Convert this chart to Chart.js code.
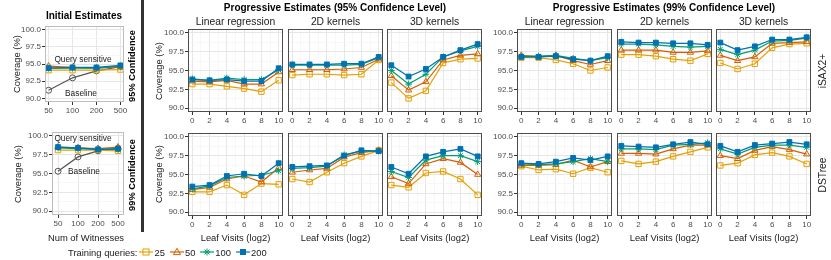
<!DOCTYPE html>
<html>
<head>
<meta charset="utf-8">
<script src="https://cdn.jsdelivr.net/npm/chart.js@4.4.1/dist/chart.umd.min.js"></script>
<style>
  body { margin: 0; width: 831px; height: 260px; position: relative; background: #fff; overflow: hidden;
         font-family: "Liberation Sans", Arial, sans-serif; }
  canvas { position: absolute; }
  .t { position: absolute; white-space: nowrap; color: #1a1a1a; font-size: 9.4px; transform: translate(-50%, -50%); }
  .b { font-weight: bold; font-size: 10px; color: #000; }
  .v { transform: translate(-50%, -50%) rotate(-90deg); }
</style>
</head>
<body>
<script>
// categories
var witnesses = ['50', '100', '200', '500'];
var leafVisits = [0, 2, 4, 6, 8, 10];
var queries = ['25', '50', '100', '200'];
var yMajor = [90, 92.5, 95, 97.5, 100];
var yMinor = [91.25, 93.75, 96.25, 98.75];

// initial estimates (rows: 25, 50, 100, 200 training queries)
var init95Baseline = [91.2, 93.0, 94.0, 94.6];
var init95 = [
  [94.1, 94.1, 94.1, 94.2],
  [94.7, 94.5, 94.4, 94.6],
  [94.4, 94.4, 94.4, 94.7],
  [94.4, 94.5, 94.5, 94.8]
];
var init99Baseline = [95.3, 97.2, 98.0, 98.3];
var init99 = [
  [98.1, 98.1, 98.1, 98.0],
  [98.5, 98.4, 98.3, 98.5],
  [98.4, 98.3, 98.2, 98.2],
  [98.5, 98.4, 98.2, 98.3]
];

// progressive estimates, 95% level
var lr95Isax = [
  [93.2, 93.2, 92.9, 92.6, 92.2, 93.7],
  [93.6, 93.5, 93.7, 93.2, 93.2, 94.8],
  [93.9, 93.7, 94.0, 93.8, 93.8, 95.1],
  [93.8, 93.7, 93.8, 93.6, 93.6, 95.3]
];
var k2d95Isax = [
  [94.4, 94.5, 94.5, 94.4, 94.5, 96.4],
  [95.1, 95.1, 95.1, 95.2, 95.4, 96.5],
  [95.7, 95.7, 95.7, 95.7, 95.8, 96.7],
  [95.8, 95.8, 95.8, 95.9, 95.9, 96.8]
];
var k3d95Isax = [
  [93.4, 91.3, 92.3, 96.0, 96.5, 96.6],
  [94.3, 92.4, 93.5, 96.4, 97.0, 97.2],
  [95.0, 93.2, 94.5, 96.8, 97.6, 98.2],
  [95.7, 94.2, 95.2, 96.8, 97.7, 98.5]
];
var lr95Ds = [
  [92.7, 92.7, 93.6, 92.3, 93.8, 93.7],
  [93.0, 93.3, 94.4, 94.8, 94.0, 95.9],
  [93.1, 93.5, 94.6, 94.8, 94.9, 95.5],
  [93.4, 93.6, 94.8, 95.1, 94.8, 96.5]
];
var k2d95Ds = [
  [94.4, 94.0, 95.3, 96.5, 97.4, 98.2],
  [95.3, 95.6, 95.8, 97.3, 97.9, 98.2],
  [95.8, 95.9, 96.1, 97.6, 98.1, 98.1],
  [96.0, 96.1, 96.2, 97.5, 98.2, 98.1]
];
var k3d95Ds = [
  [93.6, 93.3, 95.2, 95.4, 94.4, 92.3],
  [94.7, 93.8, 96.4, 97.1, 96.6, 95.0],
  [95.4, 94.6, 96.9, 97.5, 97.5, 96.7],
  [96.0, 95.1, 97.4, 98.0, 98.4, 97.4]
];

// progressive estimates, 99% level
var lr99Isax = [
  [96.7, 96.7, 96.4, 95.9, 95.0, 95.4],
  [97.0, 96.8, 97.0, 96.3, 95.8, 96.3],
  [96.9, 96.9, 97.0, 96.6, 96.3, 96.7],
  [96.8, 96.8, 96.9, 96.5, 96.3, 96.9]
];
var k2d99Isax = [
  [97.1, 97.1, 96.9, 96.5, 96.3, 97.2],
  [97.7, 97.7, 97.7, 97.4, 97.4, 97.6],
  [98.5, 98.5, 98.4, 98.2, 98.1, 98.2],
  [98.8, 98.7, 98.7, 98.6, 98.6, 98.4]
];
var k3d99Isax = [
  [96.0, 95.2, 95.9, 98.0, 98.5, 98.6],
  [97.0, 96.3, 96.8, 98.6, 98.7, 98.8],
  [97.8, 97.1, 97.7, 98.9, 99.0, 99.3],
  [98.7, 97.7, 98.2, 99.1, 99.1, 99.4]
];
var lr99Ds = [
  [96.1, 95.6, 95.7, 95.1, 95.9, 95.3],
  [96.2, 96.2, 96.3, 96.9, 96.0, 96.7],
  [96.4, 96.3, 96.4, 96.7, 97.1, 96.7],
  [96.5, 96.4, 96.7, 97.2, 96.9, 97.4]
];
var k2d99Ds = [
  [96.8, 96.4, 96.7, 97.4, 98.0, 98.6],
  [97.8, 97.8, 97.7, 98.4, 98.9, 98.9],
  [98.4, 98.4, 98.3, 98.9, 99.0, 99.2],
  [98.8, 98.7, 98.6, 99.0, 99.3, 99.0]
];
var k3d99Ds = [
  [96.2, 96.5, 97.6, 97.9, 97.4, 96.4],
  [97.5, 97.1, 98.2, 98.7, 98.3, 97.7],
  [98.4, 97.7, 98.6, 98.9, 98.9, 98.6],
  [98.8, 98.0, 98.9, 99.1, 99.3, 99.0]
];

// styles
var colors = ['#E69F00', '#D55E00', '#009E73', '#0072B2'];
var shapes = ['rect', 'triangle', 'star', 'rect'];
var radii = [3.8, 3.6, 3.4, 3.4];

Chart.defaults.font.family = '"Liberation Sans", Arial, sans-serif';
Chart.defaults.color = '#4d4d4d';

// panel border drawn over the data, like ggplot
var frame = {
  id: 'frame',
  afterDatasetsDraw: function(chart, args, opts) {
    var a = chart.chartArea, ctx = chart.ctx;
    ctx.save();
    ctx.strokeStyle = opts.color;
    ctx.lineWidth = 1;
    ctx.strokeRect(a.left + 0.5, a.top + 0.5, a.right - a.left - 1, a.bottom - a.top - 1);
    ctx.restore();
  }
};

function scale(min, max, majors, minors, size, show, fmt, isX) {
  var all = majors.concat(minors);
  function major(c) { return c.tick && majors.indexOf(c.tick.value) >= 0; }
  return {
    type: 'linear', min: min, max: max,
    afterBuildTicks: function(s) { s.ticks = all.map(function(v) { return {value: v}; }); },
    afterFit: function(s) {
      if (isX) { s.height = size; s.paddingLeft = 0; s.paddingRight = 0; }
      else { s.width = size; s.paddingTop = 0; s.paddingBottom = 0; }
    },
    border: {display: false},
    grid: {
      color: function(c) { return major(c) ? '#e6e6e6' : '#f3f3f3'; },
      lineWidth: function(c) { return major(c) ? 1 : 0.7; },
      drawTicks: show,
      tickLength: 3,
      tickWidth: 1,
      tickColor: function(c) { return major(c) ? '#333' : 'rgba(0,0,0,0)'; }
    },
    ticks: {
      display: show, autoSkip: false, maxRotation: 0, padding: 1,
      font: {size: 8}, color: '#4d4d4d',
      callback: function(v) { return majors.indexOf(v) >= 0 ? fmt(v) : ''; }
    }
  };
}

function panel(p) {
  var m = 10;
  var cw = p.w + p.yW + 2 * m, ch = p.h + p.xH + 2 * m;
  var c = document.createElement('canvas');
  c.width = cw; c.height = ch;
  c.style.left = (p.x - p.yW - m) + 'px';
  c.style.top = (p.y - m) + 'px';
  document.body.appendChild(c);

  var datasets = p.series.map(function(vals, i) {
    return {
      label: queries[i],
      data: p.xs.map(function(x, j) { return {x: x, y: vals[j]}; }),
      borderColor: colors[i],
      pointBorderColor: colors[i],
      pointBackgroundColor: i === 3 ? colors[i] : 'rgba(0,0,0,0)',
      pointStyle: shapes[i],
      pointRadius: radii[i],
      pointBorderWidth: 1,
      borderWidth: 1.2,
      order: 4 - i
    };
  });
  if (p.baseline) {
    datasets.push({
      label: 'Baseline',
      data: p.xs.map(function(x, j) { return {x: x, y: p.baseline[j]}; }),
      borderColor: '#555', pointBorderColor: '#555', pointBackgroundColor: 'rgba(0,0,0,0)',
      pointStyle: 'circle', pointRadius: 3, pointBorderWidth: 1, borderWidth: 1.2, order: 10
    });
  }

  new Chart(c, {
    type: 'line',
    data: {datasets: datasets},
    options: {
      responsive: false, animation: false, devicePixelRatio: 1,
      layout: {padding: m},
      plugins: {legend: {display: false}, tooltip: {enabled: false}, frame: {color: p.frame}},
      scales: {
        x: scale(p.xMin, p.xMax, p.xMajor, p.xMinor, p.xH, true, p.xFmt, true),
        y: scale(89.5, 100.5, yMajor, yMinor, p.yW, p.yW > 0, function(v) { return v.toFixed(1); }, false)
      }
    },
    plugins: [frame]
  });
}

function text(s, x, y, cls, size) {
  var d = document.createElement('div');
  d.className = 't ' + (cls || '');
  d.textContent = s;
  d.style.left = x + 'px';
  d.style.top = y + 'px';
  if (size) d.style.fontSize = size + 'px';
  document.body.appendChild(d);
}

// initial estimates
var witIdx = witnesses.map(function(w, i) { return i; });
function witFmt(v) { return witnesses[v]; }
panel({x: 45, y: 26, w: 79, h: 76, yW: 26, xH: 13, xs: witIdx, xMin: -0.15, xMax: 3.15,
       xMajor: witIdx, xMinor: [], xFmt: witFmt, series: init95, baseline: init95Baseline, frame: '#bdbdbd'});
panel({x: 52, y: 132, w: 72, h: 83, yW: 26, xH: 13, xs: witIdx, xMin: -0.3, xMax: 3.3,
       xMajor: witIdx, xMinor: [], xFmt: witFmt, series: init99, baseline: init99Baseline, frame: '#bdbdbd'});

// progressive estimates
var midX = [188, 288, 387], rightX = [517, 617, 716];
var PW = 95, PH = 83, topY = 29, botY = 133;
var grid = [
  [midX, topY, [lr95Isax, k2d95Isax, k3d95Isax]],
  [midX, botY, [lr95Ds, k2d95Ds, k3d95Ds]],
  [rightX, topY, [lr99Isax, k2d99Isax, k3d99Isax]],
  [rightX, botY, [lr99Ds, k2d99Ds, k3d99Ds]]
];
grid.forEach(function(g) {
  g[2].forEach(function(series, k) {
    panel({x: g[0][k], y: g[1], w: PW, h: PH, yW: k === 0 ? 26 : 0, xH: 13, xs: leafVisits,
           xMin: -0.5, xMax: 10.5, xMajor: leafVisits, xMinor: [1, 3, 5, 7, 9],
           xFmt: function(v) { return String(v); }, series: series, frame: '#4d4d4d'});
  });
});

// titles and strips
text('Initial Estimates', 84, 15, 'b');
text('Progressive Estimates (95% Confidence Level)', 335, 7, 'b');
text('Progressive Estimates (99% Confidence Level)', 664, 7, 'b');
var strips = ['Linear regression', '2D kernels', '3D kernels'];
[midX, rightX].forEach(function(xs) {
  xs.forEach(function(x, k) {
    text(strips[k], x + PW / 2, 21, '', 10.3);
    text('Leaf Visits (log2)', x + PW / 2, 237);
  });
});
text('95% Confidence', 131.5, 66, 'b v', 9.3);
text('99% Confidence', 131.5, 175, 'b v', 9.3);
text('iSAX2+', 822, 71, 'v', 10.3);
text('DSTree', 822, 175, 'v', 10.3);
text('Coverage (%)', 16, 64, 'v');
text('Coverage (%)', 17, 174, 'v');
text('Coverage (%)', 158, 71, 'v');
text('Coverage (%)', 158, 174, 'v');
text('Num of Witnesses', 86, 237);
text('Query sensitive', 83, 58.5, '', 8.3);
text('Baseline', 81, 93, '', 8.3);
text('Query sensitive', 83, 138, '', 8.3);
text('Baseline', 84, 171, '', 8.3);

// separator between initial and progressive
var sep = document.createElement('div');
sep.style.cssText = 'position:absolute;left:141px;top:0;width:3px;height:232px;background:#333';
document.body.appendChild(sep);

// legend
var lg = document.createElement('div');
lg.style.cssText = 'position:absolute;left:68px;top:246px;height:12px;display:flex;align-items:center;font-size:9.4px;color:#1a1a1a';
var head = document.createElement('span');
head.textContent = 'Training queries:';
head.style.marginRight = '2px';
lg.appendChild(head);
queries.forEach(function(q, i) {
  var col = colors[i], sym;
  if (i === 0) sym = '<rect x="4" y="3" width="6" height="6" fill="none" stroke="' + col + '"/>';
  else if (i === 1) sym = '<polygon points="7,2.3 10.5,8.6 3.5,8.6" fill="none" stroke="' + col + '"/>';
  else if (i === 2) sym = '<path d="M7 2.5V9.5M3.6 6H10.4M4.6 3.6L9.4 8.4M9.4 3.6L4.6 8.4" stroke="' + col + '"/>';
  else sym = '<rect x="4.5" y="3.5" width="5" height="5" fill="' + col + '" stroke="' + col + '"/>';
  var item = document.createElement('span');
  item.style.cssText = 'display:flex;align-items:center;margin-right:5px';
  item.innerHTML = '<svg width="14" height="12"><line x1="0" y1="6" x2="14" y2="6" stroke="' + col +
    '" stroke-width="1.2"/>' + sym + '</svg><span style="margin-left:1px">' + q + '</span>';
  lg.appendChild(item);
});
document.body.appendChild(lg);
</script>
</body>
</html>
